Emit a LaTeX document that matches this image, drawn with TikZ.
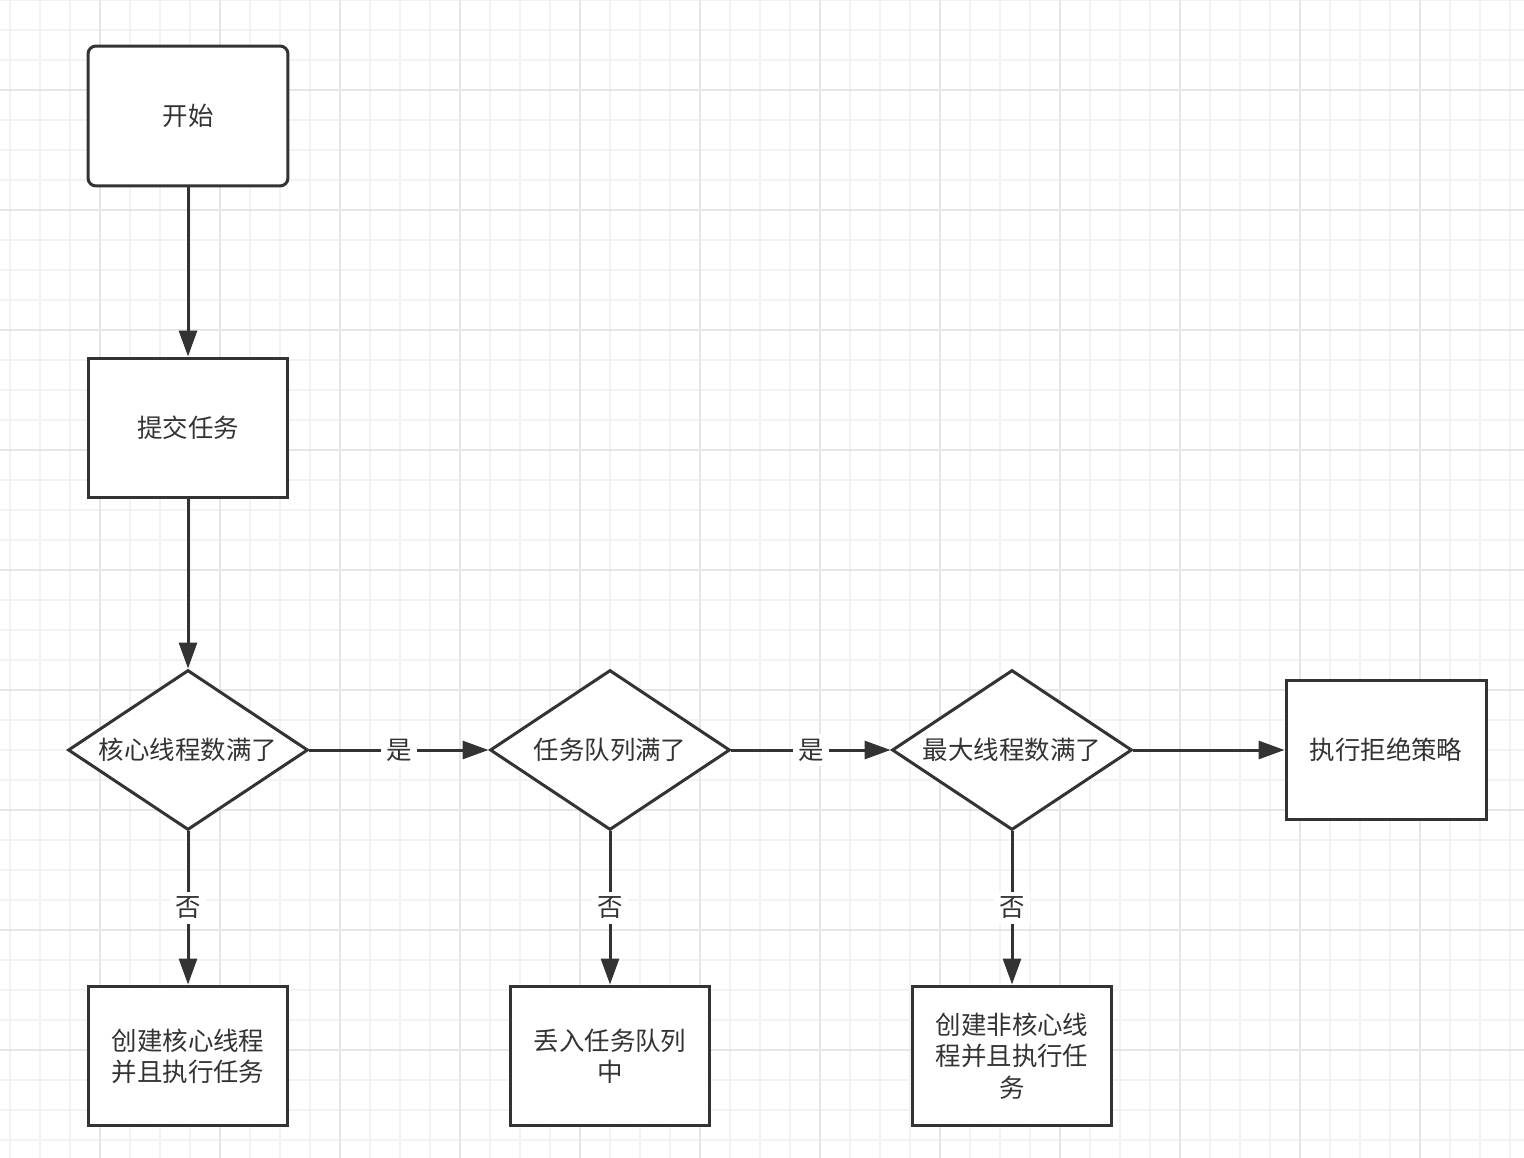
\documentclass[tikz,border=0pt]{standalone}
\usepackage{fontspec}
\newfontfamily\cjk{Noto Sans CJK SC}
\usetikzlibrary{shapes.geometric,arrows.meta}
\definecolor{ink}{HTML}{333333}
\definecolor{gridminor}{HTML}{F3F3F3}
\definecolor{gridmajor}{HTML}{E6E6E6}

\begin{document}
\begin{tikzpicture}[x=0.02cm,y=-0.02cm,
    every node/.style={font=\cjk\fontsize{14.5}{17.8}\selectfont, text=ink},
    box/.style={draw=ink, line width=0.06cm, fill=white, minimum width=4cm, minimum height=2.8cm, inner sep=0pt, align=center},
    startbox/.style={box, rounded corners=0.16cm},
    decision/.style={diamond, draw=ink, line width=0.06cm, fill=white, minimum width=4.8cm, minimum height=3.2cm, inner sep=0pt},
    flow/.style={draw=ink, line width=0.06cm, -{Triangle[length=0.52cm,width=0.36cm]}},
    yesno/.style={fill=white, inner sep=3pt}]
      % paper with grid
      \fill[white] (0,0) rectangle (1524,1158);
      \useasboundingbox (0,0) rectangle (1524,1158);
      \foreach \x in {10,40,...,1520} \draw[gridminor, line width=0.04cm] (\x,0) -- (\x,1158);
      \foreach \y in {0,30,...,1158} \draw[gridminor, line width=0.04cm] (0,\y) -- (1524,\y);
      \foreach \x in {100,220,...,1520} \draw[gridmajor, line width=0.04cm] (\x,0) -- (\x,1158);
      \foreach \y in {90,210,...,1158} \draw[gridmajor, line width=0.04cm] (0,\y) -- (1524,\y);
      % steps
      \node[startbox] (start) at (188,116) {开始};
      \node[box] (submit) at (188,428) {提交任务};
      \node[decision] (core) at (188,750) {\makebox[0pt]{核心线程数满了}};
      \node[decision] (queue) at (610,750) {\makebox[0pt]{任务队列满了}};
      \node[decision] (maxi) at (1012,750) {\makebox[0pt]{最大线程数满了}};
      \node[box] (reject) at (1386,750) {执行拒绝策略};
      \node[box] (newcore) at (188,1056) {创建核心线程\\并且执行任务};
      \node[box] (enqueue) at (610,1056) {丢入任务队列\\中};
      \node[box] (newnoncore) at (1012,1056) {创建非核心线\\程并且执行任\\务};
      % connectors
      \draw[flow] (start) -- (submit);
      \draw[flow] (submit) -- (core);
      \draw[flow] (core) -- node[yesno] (yes1) {是} (queue);
      \draw[flow] (queue) -- node[yesno] (yes2) {是} (maxi);
      \draw[flow] (maxi) -- (reject);
      \draw[flow] (core) -- node[yesno] (no1) {否} (newcore);
      \draw[flow] (queue) -- node[yesno] (no2) {否} (enqueue);
      \draw[flow] (maxi) -- node[yesno] (no3) {否} (newnoncore);
    \end{tikzpicture}
\end{document}
